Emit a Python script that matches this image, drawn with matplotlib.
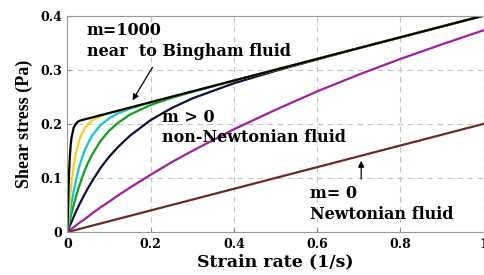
import matplotlib.pyplot as plt

# strain rate (1/s) sample points
strain = [0, 0.002, 0.004, 0.006, 0.008, 0.01, 0.015, 0.02, 0.025, 0.03, 0.04,
          0.05, 0.06, 0.08, 0.1, 0.12, 0.15, 0.2, 0.25, 0.3, 0.4, 0.5, 0.6,
          0.7, 0.8, 0.9, 1.0]

# shear stress (Pa)
stress_newton = [0, 0.0004, 0.0008, 0.0012, 0.0016, 0.002, 0.003, 0.004, 0.005,
                 0.006, 0.008, 0.01, 0.012, 0.016, 0.02, 0.024, 0.03, 0.04,
                 0.05, 0.06, 0.08, 0.1, 0.12, 0.14, 0.16, 0.18, 0.2]
stress_magenta = [0, 0.0012, 0.0024, 0.0036, 0.0048, 0.006, 0.009, 0.012, 0.015,
                  0.018, 0.023, 0.029, 0.035, 0.046, 0.056, 0.067, 0.082, 0.106,
                  0.129, 0.150, 0.190, 0.226, 0.260, 0.291, 0.320, 0.347, 0.373]
stress_navy = [0, 0.004, 0.008, 0.012, 0.0155, 0.019, 0.028, 0.037, 0.045,
               0.053, 0.068, 0.082, 0.095, 0.119, 0.139, 0.156, 0.178, 0.207,
               0.229, 0.247, 0.275, 0.298, 0.319, 0.340, 0.360, 0.380, 0.400]
stress_green = [0, 0.0075, 0.015, 0.022, 0.028, 0.035, 0.050, 0.064, 0.077,
                0.089, 0.111, 0.129, 0.144, 0.169, 0.187, 0.201, 0.217, 0.235,
                0.248, 0.259, 0.280, 0.300, 0.320, 0.340, 0.360, 0.380, 0.400]
stress_cyan = [0, 0.012, 0.023, 0.034, 0.044, 0.054, 0.075, 0.094, 0.111,
               0.125, 0.148, 0.165, 0.179, 0.198, 0.210, 0.219, 0.228, 0.240,
               0.250, 0.260, 0.280, 0.300, 0.320, 0.340, 0.360, 0.380, 0.400]
stress_yellow = [0, 0.023, 0.043, 0.062, 0.078, 0.092, 0.122, 0.144, 0.160,
                 0.173, 0.190, 0.200, 0.207, 0.214, 0.220, 0.224, 0.230, 0.240,
                 0.250, 0.260, 0.280, 0.300, 0.320, 0.340, 0.360, 0.380, 0.400]
stress_black = [0, 0.066, 0.111, 0.141, 0.162, 0.175, 0.193, 0.200, 0.204,
                0.206, 0.208, 0.210, 0.212, 0.216, 0.220, 0.224, 0.230, 0.240,
                0.250, 0.260, 0.280, 0.300, 0.320, 0.340, 0.360, 0.380, 0.400]

xticks = [0, 0.2, 0.4, 0.6, 0.8, 1]
xtick_labels = ['0', '0.2', '0.4', '0.6', '0.8', '1']
yticks = [0, 0.1, 0.2, 0.3, 0.4]
ytick_labels = ['0', '0.1', '0.2', '0.3', '0.4']

# the picture is stretched sideways, a wide serif face gets close to it
wide = ['DejaVu Serif']
plt.rcParams['font.family'] = wide
plt.rcParams['font.weight'] = 'bold'

fig = plt.figure(figsize=(4.85, 2.75), dpi=100)
ax = fig.add_axes([0.139, 0.156, 0.858, 0.787])

curves = [
    (stress_newton, '#6b2a22'),
    (stress_magenta, '#a0209a'),
    (stress_navy, '#10103a'),
    (stress_green, '#10a018'),
    (stress_cyan, '#18c4c8'),
    (stress_yellow, '#f0d020'),
    (stress_black, '#000000'),
]
for ys, col in curves:
    ax.plot(strain, ys, color=col, linewidth=1.6)

ax.set_xlim(0, 1)
ax.set_ylim(0, 0.4)
ax.set_xticks(xticks)
ax.set_xticklabels(xtick_labels)
ax.set_yticks(yticks)
ax.set_yticklabels(ytick_labels)
ax.tick_params(direction='in', length=3, labelsize=9, pad=4, color='#888888')
ax.grid(True, linestyle=(0, (5, 4)), color='#c4c4c4', linewidth=0.8)
for s in ax.spines.values():
    s.set_color('#999999')
ax.spines['right'].set_visible(False)

ax.set_xlabel('Strain rate (1/s)', fontsize=12.5, fontweight='bold', labelpad=2)
ax.set_ylabel('Shear stress (Pa)', fontsize=13, fontweight='bold', labelpad=5,
              family=['Liberation Serif'])

tkw = dict(fontsize=11.5, fontweight='bold', va='baseline', ha='left')
ax.text(0.046, 0.3635, 'm=1000', **tkw)
ax.text(0.046, 0.326, 'near  to Bingham fluid', **tkw)
ax.text(0.227, 0.204, 'm > 0', **tkw)
ax.text(0.227, 0.166, 'non-Newtonian fluid', **tkw)
ax.text(0.582, 0.063, 'm= 0', **tkw)
ax.text(0.582, 0.024, 'Newtonian fluid', **tkw)

arw = dict(arrowstyle='-|>', color='black', lw=0.9, mutation_scale=9)
ax.annotate('', xy=(0.153, 0.239), xytext=(0.208, 0.309), arrowprops=arw)
ax.annotate('', xy=(0.706, 0.137), xytext=(0.706, 0.093), arrowprops=arw)

fig.savefig('out.png', dpi=100)
